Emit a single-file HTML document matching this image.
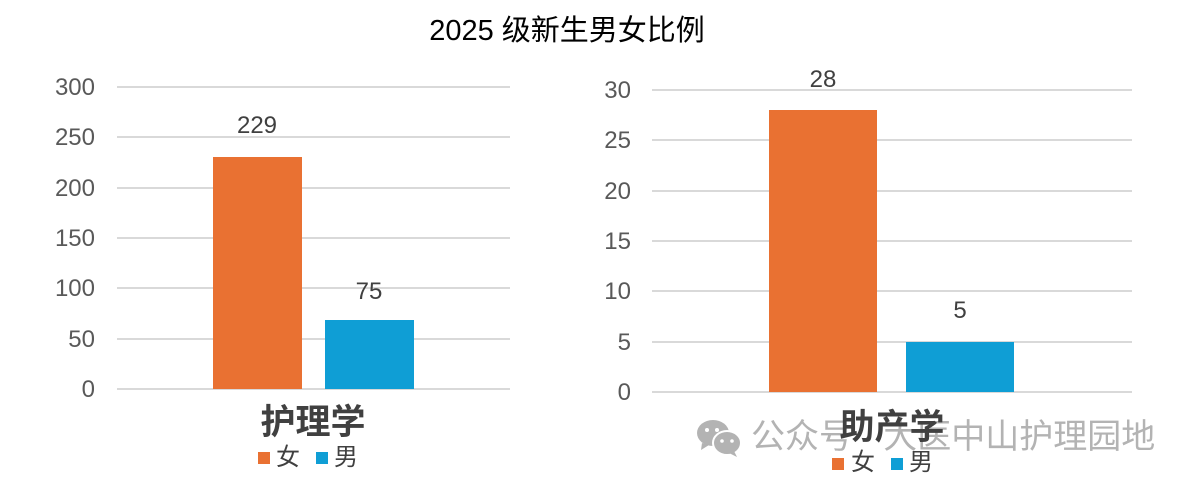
<!DOCTYPE html>
<html><head><meta charset="utf-8"><style>
body{margin:0;width:1194px;height:486px;background:#fff;position:relative;overflow:hidden;font-family:"Liberation Sans","Noto Sans CJK SC",sans-serif;color:#595959}
div{position:absolute}
.g{height:2px;background:#d9d9d9}
.yl{font-size:24px;text-align:right;width:70px;line-height:22px}
.dl{font-size:24px;text-align:center;width:100px;line-height:22px;color:#404040}
.o{background:#e97132}.b{background:#0f9ed5}
.cat{font-size:35px;font-weight:bold;color:#404040;text-align:center;width:200px;line-height:36px}
.lg{font-size:24px;line-height:24px;color:#404040}
</style></head><body>
<div style="left:0;width:1134px;top:13px;text-align:center;font-size:29px;color:#000;line-height:36px">2025 级新生男女比例</div>

<!-- left chart -->
<div class="g" style="left:117px;width:393px;top:86px"></div>
<div class="g" style="left:117px;width:393px;top:136px"></div>
<div class="g" style="left:117px;width:393px;top:187px"></div>
<div class="g" style="left:117px;width:393px;top:237px"></div>
<div class="g" style="left:117px;width:393px;top:287px"></div>
<div class="g" style="left:117px;width:393px;top:338px"></div>
<div class="g" style="left:117px;width:393px;top:388px"></div>
<div class="yl" style="left:25px;top:77px">300</div>
<div class="yl" style="left:25px;top:127px">250</div>
<div class="yl" style="left:25px;top:178px">200</div>
<div class="yl" style="left:25px;top:228px">150</div>
<div class="yl" style="left:25px;top:278px">100</div>
<div class="yl" style="left:25px;top:329px">50</div>
<div class="yl" style="left:25px;top:379px">0</div>
<div class="o" style="left:213px;width:89px;top:157px;height:232px"></div>
<div class="b" style="left:325px;width:89px;top:320px;height:69px"></div>
<div class="dl" style="left:207px;top:115px">229</div>
<div class="dl" style="left:319px;top:281px">75</div>
<div class="cat" style="left:213px;top:405px">护理学</div>
<div class="o" style="left:258px;top:452px;width:12px;height:12px"></div>
<div class="lg" style="left:276px;top:446px">女</div>
<div class="b" style="left:316px;top:452px;width:12px;height:12px"></div>
<div class="lg" style="left:334px;top:446px">男</div>

<!-- right chart -->
<div class="g" style="left:652px;width:480px;top:89px"></div>
<div class="g" style="left:652px;width:480px;top:139px"></div>
<div class="g" style="left:652px;width:480px;top:190px"></div>
<div class="g" style="left:652px;width:480px;top:240px"></div>
<div class="g" style="left:652px;width:480px;top:290px"></div>
<div class="g" style="left:652px;width:480px;top:341px"></div>
<div class="g" style="left:652px;width:480px;top:391px"></div>
<div class="yl" style="left:561px;top:80px">30</div>
<div class="yl" style="left:561px;top:130px">25</div>
<div class="yl" style="left:561px;top:181px">20</div>
<div class="yl" style="left:561px;top:231px">15</div>
<div class="yl" style="left:561px;top:281px">10</div>
<div class="yl" style="left:561px;top:332px">5</div>
<div class="yl" style="left:561px;top:382px">0</div>
<div class="o" style="left:769px;width:108px;top:110px;height:282px"></div>
<div class="b" style="left:906px;width:108px;top:342px;height:50px"></div>
<div class="dl" style="left:773px;top:69px">28</div>
<div class="dl" style="left:910px;top:300px">5</div>

<!-- watermark -->
<svg style="position:absolute;left:696px;top:418px" width="46" height="40" viewBox="0 0 46 40">
<ellipse cx="17" cy="15" rx="16" ry="13" fill="#b3b3b3"/>
<path d="M6 25 L5 32 L13 27 Z" fill="#b3b3b3"/>
<ellipse cx="31" cy="25" rx="14" ry="12" fill="#b3b3b3" stroke="#fff" stroke-width="2"/>
<path d="M38 33 L41 39 L33 35 Z" fill="#b3b3b3"/>
<circle cx="11" cy="12" r="2" fill="#fff"/><circle cx="21" cy="12" r="2" fill="#fff"/>
<circle cx="26" cy="23" r="1.8" fill="#fff"/><circle cx="36" cy="23" r="1.8" fill="#fff"/>
</svg>
<div style="left:751px;top:417px;font-size:34px;line-height:40px;color:#b3b3b3;white-space:nowrap">公众号 · 大医中山护理园地</div>

<div class="cat" style="left:792px;top:410px">助产学</div>
<div class="o" style="left:832px;top:458px;width:12px;height:12px"></div>
<div class="lg" style="left:851px;top:451px">女</div>
<div class="b" style="left:891px;top:458px;width:12px;height:12px"></div>
<div class="lg" style="left:909px;top:451px">男</div>
</body></html>
